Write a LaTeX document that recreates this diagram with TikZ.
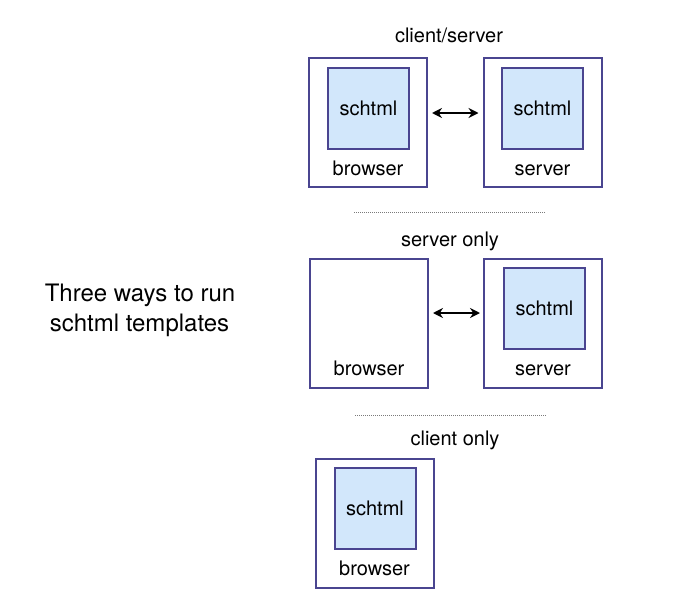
\documentclass[tikz,border=0pt]{standalone}
\usepackage{fontspec}
\setmainfont{TeX Gyre Heros}
\usetikzlibrary{arrows.meta}
\definecolor{boxline}{HTML}{4A4590}
\definecolor{boxfill}{HTML}{D2E7FB}
\definecolor{dotgray}{HTML}{7A7A7A}
\begin{document}
\begin{tikzpicture}[x=1pt,y=-1pt,
  outerbox/.style={draw=boxline, line width=2pt, fill=white, minimum width=118pt, minimum height=129pt, inner sep=0pt},
  innerbox/.style={draw=boxline, line width=2pt, fill=boxfill, minimum width=81pt, minimum height=81pt, inner sep=0pt, font=\fontsize{20}{24}\selectfont},
  lbl/.style={anchor=base, inner sep=0pt, font=\fontsize{20}{24}\selectfont},
  link/.style={{Stealth[length=10pt,width=10pt]}-{Stealth[length=10pt,width=10pt]}, line width=2pt, black},
  sep/.style={dotgray, line width=1pt, dash pattern=on 1pt off 1pt}
]
\useasboundingbox (0,0) rectangle (686,613);

% title
\node[anchor=base, inner sep=0pt, font=\fontsize{24}{30}\selectfont] (title) at (140,301.5) {Three ways to run};
\node[anchor=base, inner sep=0pt, font=\fontsize{24}{30}\selectfont] (title2) at (139.5,331.5) {schtml templates};

% client/server
\node[lbl] (h1) at (449,42) {client/server};
\node[outerbox] (b1) at (368,122.5) {};
\node[innerbox] (s1a) at (368.5,108.5) {schtml};
\node[lbl] (b1l) at (368,175) {browser};
\node[outerbox] (v1) at (542.5,122.5) {};
\node[innerbox] (s1b) at (542.5,108.5) {schtml};
\node[lbl] (v1l) at (542.5,175) {server};
\draw[link, shorten <=4pt, shorten >=4pt] (b1.east |- 0,113) -- (v1.west |- 0,113);

\coordinate (d1a) at (354,212.5);
\coordinate (d1b) at (545,212.5);
\draw[sep] (d1a) -- (d1b);

% server only
\node[lbl] (h2) at (450,246) {server only};
\node[outerbox] (b2) at (369,323) {};
\node[lbl] (b2l) at (369,375) {browser};
\node[outerbox] (v2) at (543,323) {};
\node[innerbox] (s2b) at (544.5,308.5) {schtml};
\node[lbl] (v2l) at (543,375) {server};
\draw[link, shorten <=4pt, shorten >=3pt] (b2.east |- 0,313) -- (v2.west |- 0,313);

\coordinate (d2a) at (355,415.5);
\coordinate (d2b) at (546,415.5);
\draw[sep] (d2a) -- (d2b);

% client only
\node[lbl] (h3) at (455,445) {client only};
\node[outerbox] (b3) at (374.5,523) {};
\node[innerbox] (s3a) at (375,508.5) {schtml};
\node[lbl] (b3l) at (374.5,575) {browser};
\end{tikzpicture}
\end{document}
